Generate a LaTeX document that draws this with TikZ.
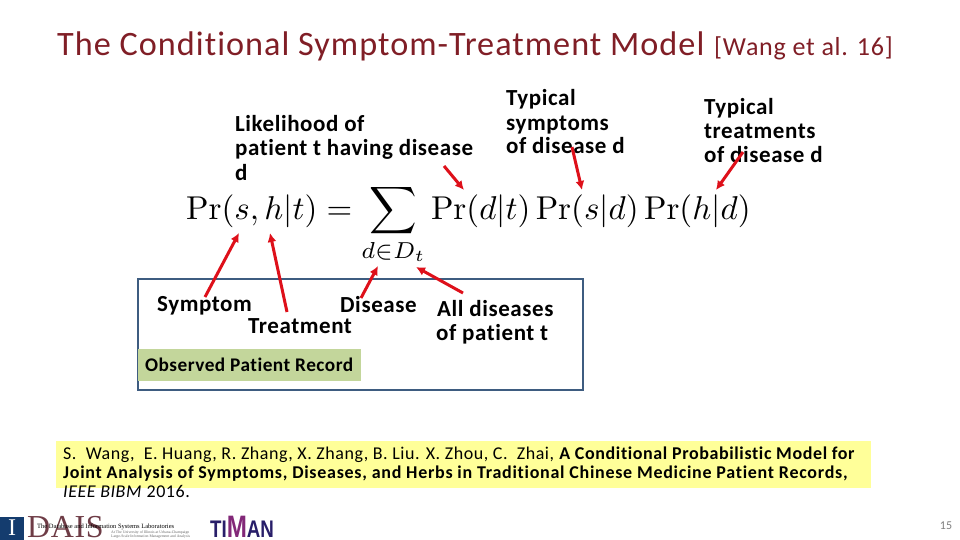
\documentclass[tikz,border=0pt]{standalone}
\usepackage[no-math]{fontspec}
\setmainfont{Carlito}[Ligatures=CommonOff]
\newfontfamily\titlefont[LetterSpace=3,Ligatures=CommonOff]{Carlito}
\newfontfamily\bodyfont[LetterSpace=2.5,Ligatures=CommonOff]{Carlito}
\newfontfamily\citefont[LetterSpace=3,Ligatures=CommonOff]{Carlito}
\newfontfamily\citewide[LetterSpace=4,Ligatures=CommonOff]{Carlito}
\newfontfamily\logofont{Liberation Serif}
\newfontfamily\timanfont{Liberation Sans}
\usetikzlibrary{arrows.meta}
\definecolor{titlered}{RGB}{128,30,38}
\definecolor{framec}{RGB}{62,92,128}
\definecolor{greenbg}{RGB}{195,214,155}
\definecolor{yellowbg}{RGB}{255,255,153}
\definecolor{arrowred}{RGB}{222,16,26}
\definecolor{illini}{RGB}{20,60,110}
\definecolor{daisc}{RGB}{110,60,70}
\definecolor{timanc}{RGB}{40,30,105}
\definecolor{timanm}{RGB}{130,40,120}
\tikzset{
  x=1pt,y=-1pt,
  lbl/.style={anchor=base west,inner sep=0pt,font=\bodyfont\bfseries\fontsize{23}{27}\selectfont,text=black},
  cite/.style={anchor=base west,inner sep=0pt,font=\citefont\fontsize{18}{20}\selectfont,text=black},
  redarrow/.style={draw=arrowred,line width=3pt,-{Latex[length=9pt,width=9pt]}},
}
\begin{document}
\begin{tikzpicture}
\useasboundingbox (0,0) rectangle (960,540);
\fill[white] (0,0) rectangle (960,540);
% title
\node[anchor=base west,inner sep=0pt,text=titlered] (title) at (57,56) {\titlefont\fontsize{34.2}{40}\selectfont The Conditional Symptom-Treatment Model};
\node[anchor=base west,inner sep=0pt,text=titlered] (titleref) at (714,56) {\titlefont\fontsize{26}{30}\selectfont [Wang et al. 16]};
% frame and green label
\draw[framec,line width=2.6pt] (138,279) rectangle (583,390);
\node[anchor=north west,fill=greenbg,minimum width=223pt,minimum height=32pt,inner sep=0pt] (obsbox) at (138,349) {};
\node[lbl,font=\bodyfont\bfseries\fontsize{19.3}{23}\selectfont] (obs) at (145,371) {Observed Patient Record};
% yellow
\node[anchor=north west,fill=yellowbg,minimum width=815pt,minimum height=47pt,inner sep=0pt] (citebox) at (56,441) {};
\node[cite] (c1) at (63,459) {S.\ \ Wang,\ \ E. Huang, R. Zhang, X. Zhang, B. Liu. X. Zhou, C.\ \ Zhai, \textbf{\addfontfeature{LetterSpace=3.4}A Conditional Probabilistic Model for}};
\node[cite,font=\citewide\fontsize{18}{20}\selectfont] (c2) at (63,478) {\textbf{Joint Analysis of Symptoms, Diseases, and Herbs in Traditional Chinese Medicine Patient Records,}};
\node[cite] (c3) at (63,497) {\textit{IEEE BIBM} 2016.};
% formula
\node[anchor=base west,inner sep=0pt] (formula) at (186,219) {\scalebox{3.3}{$\displaystyle \Pr(s,h|t)=\sum_{d\in D_t}\Pr(d|t)\Pr(s|d)\Pr(h|d)$}};
% labels
\node[lbl] (l1) at (235,132) {Likelihood of};
\node[lbl] (l2) at (235,156) {patient t having disease};
\node[lbl] (l3) at (235,180) {d};
\node[lbl] (s1) at (506,106) {Typical};
\node[lbl] (s2) at (506,131) {symptoms};
\node[lbl] (s3) at (506,154) {of disease d};
\node[lbl] (t1) at (704,115) {Typical};
\node[lbl] (t2) at (704,139) {treatments};
\node[lbl] (t3) at (704,163) {of disease d};
\node[lbl] (sym) at (157,311) {Symptom};
\node[lbl] (dis) at (340,312) {Disease};
\node[lbl] (tre) at (248,333) {Treatment};
\node[lbl] (all1) at (437,316) {All diseases};
\node[lbl] (all2) at (436,340) {of patient t};
% arrows
\coordinate (a1s) at (205,297); \coordinate (a1e) at (239,233);
\coordinate (a2s) at (287,312); \coordinate (a2e) at (270,233);
\coordinate (a3s) at (361,298); \coordinate (a3e) at (378,266);
\coordinate (a4s) at (463,293); \coordinate (a4e) at (416,267);
\coordinate (a5s) at (444,166); \coordinate (a5e) at (464,190);
\coordinate (a6s) at (572,147); \coordinate (a6e) at (582,190);
\coordinate (a7s) at (743,152); \coordinate (a7e) at (716,190);
\foreach \a in {a1,a2,a3,a4,a5,a6,a7} \draw[redarrow] (\a s) -- (\a e);
% logos
\fill[illini] (0,517) rectangle (24,540);
\node[inner sep=0pt,text=white] (illinitext) at (12,528) {\logofont\fontsize{24}{24}\selectfont I};
\node[anchor=base west,inner sep=0pt,text=daisc] (dais) at (27,537) {\logofont\fontsize{32}{32}\selectfont\addfontfeature{LetterSpace=2}DAIS};
\node[anchor=base west,inner sep=0pt,text=black] (lab) at (37,528) {\logofont\fontsize{6.5}{6.5}\selectfont The Database and Information Systems Laboratories};
\node[anchor=base west,inner sep=0pt,text=black!60] (lab2) at (111,533) {\logofont\fontsize{3.8}{3.8}\selectfont At The University of Illinois at Urbana-Champaign};
\node[anchor=base west,inner sep=0pt,text=black!60] (lab3) at (111,537) {\logofont\fontsize{3.8}{3.8}\selectfont Large-Scale Information Management and Analysis};
\node[anchor=base west,inner sep=0pt] (timan) at (210,537) {\scalebox{0.78}[1]{\timanfont\bfseries\fontsize{24}{24}\selectfont\textcolor{timanc}{TI}\textcolor{timanm}{\fontsize{31}{24}\selectfont M}\textcolor{timanc}{AN}}};
% page number
\node[inner sep=0pt,text=black!50] (page) at (946,526) {\fontsize{12}{14}\selectfont 15};
\end{tikzpicture}
\end{document}
